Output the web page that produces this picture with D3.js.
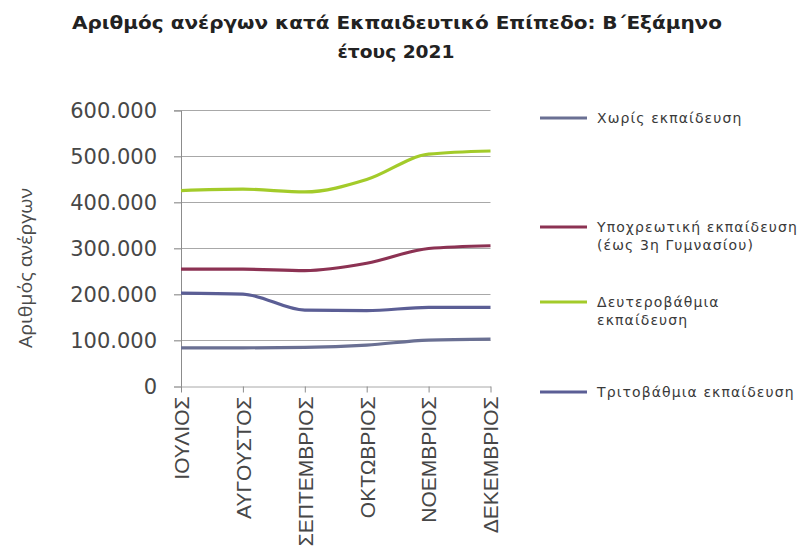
<!DOCTYPE html>
<html><head><meta charset="utf-8">
<script src="https://cdn.jsdelivr.net/npm/d3@7"></script>
<style>body{margin:0;background:#fff}svg{display:block}</style>
</head><body>
<svg id="c" width="800" height="547"></svg>
<script>
const months = ["ΙΟΥΛΙΟΣ","ΑΥΓΟΥΣΤΟΣ","ΣΕΠΤΕΜΒΡΙΟΣ","ΟΚΤΩΒΡΙΟΣ","ΝΟΕΜΒΡΙΟΣ","ΔΕΚΕΜΒΡΙΟΣ"];
const noEducation = [84000, 84000, 85000, 90000, 101000, 103000];
const compulsory = [255000, 255000, 252000, 268000, 300000, 306000];
const secondary = [426000, 429000, 423000, 450000, 505000, 512000];
const tertiary = [203000, 201000, 166000, 165000, 172000, 172000];
const yTicks = [0, 100000, 200000, 300000, 400000, 500000, 600000];
const seriesNames = [["Χωρίς εκπαίδευση"], ["Υποχρεωτική εκπαίδευση", "(έως 3η Γυμνασίου)"], ["Δευτεροβάθμια", "εκπαίδευση"], ["Τριτοβάθμια εκπαίδευση"]];
const seriesValues = [noEducation, compulsory, secondary, tertiary];
const seriesColors = ["#6a7093", "#8c3253", "#a3cb2a", "#5b5e95"];
const titleLines = ["Αριθμός ανέργων κατά Εκπαιδευτικό Επίπεδο: Β΄Εξάμηνο", "έτους 2021"];
const yTitle = "Αριθμός ανέργων";

const svg = d3.select("#c");
const x = d3.scalePoint().domain(months).range([181, 490.5]);
const y = d3.scaleLinear().domain([0, 600000]).range([386.5, 110.5]);
const fmt = v => d3.format(",")(v).replace(/,/g, ".");

// title
svg.append("text").attr("x", 397).attr("y", 29).attr("text-anchor", "middle")
  .attr("font-family", "DejaVu Sans").attr("font-weight", "bold").attr("font-size", 17)
  .attr("fill", "#222").attr("textLength", 650).attr("lengthAdjust", "spacingAndGlyphs")
  .text(titleLines[0]);
svg.append("text").attr("x", 396).attr("y", 58).attr("text-anchor", "middle")
  .attr("font-family", "DejaVu Sans").attr("font-weight", "bold").attr("font-size", 17)
  .attr("fill", "#222").attr("textLength", 117).attr("lengthAdjust", "spacingAndGlyphs")
  .text(titleLines[1]);

// gridlines
svg.append("g").selectAll("line").data(yTicks.filter(d => d > 0)).join("line")
  .attr("x1", 174).attr("x2", 490.5).attr("y1", d => y(d)).attr("y2", d => y(d))
  .attr("stroke", "#a8a8a8").attr("stroke-width", 1);

// y axis
const yAxis = svg.append("g").attr("transform", "translate(181,0)")
  .call(d3.axisLeft(y).tickValues(yTicks).tickFormat(fmt).tickSize(7).tickPadding(17));
yAxis.select(".domain").attr("stroke", "#8c8c8c");
yAxis.selectAll(".tick line").attr("stroke", "#a8a8a8");
yAxis.selectAll(".tick text").attr("font-family", "DejaVu Sans").attr("font-size", 21).attr("fill", "#474747");

// x axis
const xAxis = svg.append("g").attr("transform", "translate(0,386.5)")
  .call(d3.axisBottom(x).tickSize(6).tickSizeOuter(0));
xAxis.select(".domain").attr("stroke", "#a8a8a8");
xAxis.selectAll(".tick line").attr("stroke", "#8c8c8c");
xAxis.selectAll(".tick text").attr("font-family", "Liberation Sans").attr("font-size", 21).attr("fill", "#474747")
  .attr("transform", "rotate(-90)").attr("text-anchor", "end").attr("dy", "0.35em").attr("x", -10).attr("y", 0);

// y title
svg.append("text").attr("transform", "translate(32,268) rotate(-90)").attr("text-anchor", "middle")
  .attr("font-family", "Open Sans").attr("font-weight", 400).attr("font-size", 19).attr("fill", "#4a4a4a")
  .attr("textLength", 160).attr("lengthAdjust", "spacingAndGlyphs")
  .text(yTitle);

// lines
const line = d3.line().x((d, i) => x(months[i])).y(d => y(d)).curve(d3.curveMonotoneX);
svg.append("g").selectAll("path").data(seriesValues).join("path")
  .attr("d", line).attr("fill", "none").attr("stroke", (d, i) => seriesColors[i])
  .attr("stroke-width", 3.2).attr("stroke-linejoin", "round");

// legend
const legY = [118, 227, 302, 392];
const leg = svg.append("g").selectAll("g").data(seriesNames).join("g")
  .attr("transform", (d, i) => `translate(540,${legY[i]})`);
leg.append("line").attr("x1", 0).attr("x2", 47).attr("y1", 0).attr("y2", 0)
  .attr("stroke", (d, i) => seriesColors[i]).attr("stroke-width", 3.2);
leg.each(function(d) {
  d3.select(this).selectAll("text").data(d).join("text")
    .attr("x", 57).attr("y", (t, j) => j * 18).attr("dy", "0.35em")
    .attr("font-family", "DejaVu Sans").attr("font-size", 14).attr("letter-spacing", 1.1)
    .attr("fill", "#3a3a3a").text(t => t);
});
</script>
</body></html>
